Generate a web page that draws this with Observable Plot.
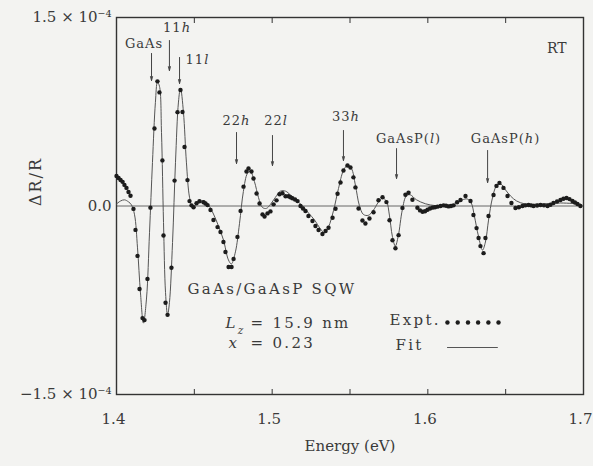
<!DOCTYPE html>
<html><head><meta charset="utf-8">
<script src="https://cdn.jsdelivr.net/npm/d3@7"></script>
<script src="https://cdn.jsdelivr.net/npm/@observablehq/plot@0.6"></script>
<style>
html,body{margin:0;padding:0;background:#f3f3f1;}
#chart svg{display:block;}
</style></head><body><div id="chart"></div>
<script>
// Experimental points: photon energy (eV) and ΔR/R in units of 1e-5
const exptEnergy = [
 1.4000,1.4013,1.4026,1.4039,1.4051,1.4064,1.4077,1.4090,1.4109,1.4122,
 1.4135,1.4148,1.4167,1.4180,1.4199,1.4218,1.4244,1.4263,1.4276,1.4295,
 1.4302,1.4315,1.4328,1.4353,1.4373,1.4392,1.4411,1.4424,1.4437,1.4456,
 1.4469,1.4495,1.4514,1.4533,1.4559,1.4585,1.4604,1.4623,1.4649,1.4668,
 1.4687,1.4700,1.4720,1.4739,1.4752,1.4777,1.4797,1.4816,1.4835,1.4848,
 1.4867,1.4880,1.4900,1.4919,1.4938,1.4951,1.4970,1.4989,1.5009,1.5028,
 1.5047,1.5066,1.5086,1.5105,1.5130,1.5163,1.5182,1.5214,1.5233,1.5259,
 1.5278,1.5298,1.5323,1.5343,1.5362,1.5388,1.5407,1.5420,1.5439,1.5458,
 1.5484,1.5503,1.5522,1.5535,1.5555,1.5580,1.5599,1.5625,1.5651,1.5683,
 1.5709,1.5734,1.5754,1.5773,1.5792,1.5812,1.5837,1.5856,1.5876,1.5901,
 1.5933,1.5966,1.5998,1.6030,1.6062,1.6101,1.6133,1.6165,1.6210,1.6242,
 1.6274,1.6293,1.6313,1.6326,1.6338,1.6358,1.6370,1.6390,1.6422,1.6441,
 1.6460,1.6486,1.6512,1.6537,1.6563,1.6608,1.6647,1.6679,1.6724,1.6769,
 1.6807,1.6852,1.6891,1.6929,1.6961,1.6980
];
const exptValue = [
 2.39,2.23,2.07,1.92,1.68,1.44,1.12,0.81,-0.23,-1.90,
 -3.97,-6.60,-8.92,-9.08,-5.80,-0.13,6.17,9.92,9.04,3.63,
 -2.35,-7.70,-8.66,-4.91,2.02,7.47,9.23,7.48,4.69,2.06,
 0.39,-0.10,0.22,0.38,0.30,0.07,-0.32,-1.12,-1.68,-2.07,
 -2.86,-3.66,-4.85,-4.85,-4.21,-2.46,-0.39,1.54,2.74,2.98,
 2.74,2.19,1.00,0.20,-0.67,-0.83,-0.59,-0.43,0.13,0.45,
 0.94,1.02,0.78,0.78,0.62,0.39,0.00,-0.40,-0.80,-1.19,
 -1.59,-1.91,-2.23,-1.99,-1.73,-0.93,-0.22,0.98,1.87,2.82,
 3.22,3.06,2.28,1.48,-0.20,-1.15,-1.39,-0.99,-0.50,0.46,
 0.70,0.31,-1.13,-2.72,-3.36,-2.32,-0.15,0.89,1.05,0.50,
 -0.14,-0.46,-0.30,-0.13,-0.05,0.05,-0.03,0.05,0.48,0.80,
 0.40,-0.72,-1.76,-2.55,-3.19,-3.75,-2.55,-0.80,0.88,1.60,
 1.84,1.44,0.80,0.24,-0.16,0.00,0.08,0.00,0.08,0.00,
 0.24,0.48,0.64,0.40,0.16,0.00
];
// Further points read where the dots crowd into a band
const exptBandEnergy = [1.4482,1.4572,1.5117,1.5147,1.5198,1.5950,1.5982,1.6014,1.6046,1.6082,1.6117,1.6149,1.6188,1.6585,1.6627,1.6663,1.6702,1.6746,1.6788,1.6830,1.6871,1.6910,1.6945];
const exptBandValue  = [0.05,0.20,0.70,0.52,-0.20,-0.35,-0.42,-0.20,-0.10,0.00,0.02,0.00,0.30,-0.10,0.05,0.05,0.04,0.05,0.10,0.36,0.58,0.55,0.28];
// Fitted line
const fitEnergy = [
 1.4000,1.4026,1.4051,1.4077,1.4096,1.4116,1.4135,1.4154,1.4173,1.4193,
 1.4212,1.4231,1.4250,1.4263,1.4276,1.4289,1.4302,1.4315,1.4328,1.4340,
 1.4360,1.4379,1.4398,1.4411,1.4430,1.4449,1.4469,1.4488,1.4514,1.4539,
 1.4565,1.4591,1.4623,1.4655,1.4687,1.4719,1.4738,1.4764,1.4790,1.4815,
 1.4841,1.4860,1.4886,1.4912,1.4937,1.4963,1.4989,1.5021,1.5053,1.5086,
 1.5118,1.5156,1.5195,1.5233,1.5272,1.5310,1.5336,1.5362,1.5394,1.5426,
 1.5458,1.5484,1.5509,1.5535,1.5560,1.5586,1.5618,1.5650,1.5682,1.5708,
 1.5734,1.5753,1.5772,1.5791,1.5810,1.5836,1.5862,1.5887,1.5926,1.5984,
 1.6048,1.6112,1.6177,1.6221,1.6253,1.6279,1.6299,1.6325,1.6351,1.6370,
 1.6390,1.6415,1.6441,1.6467,1.6499,1.6531,1.6570,1.6627,1.6724,1.6852,
 1.6980
];
const fitValue = [
 0.16,0.40,0.49,0.33,0.09,-0.70,-3.33,-6.92,-9.32,-7.32,
 -2.13,3.46,8.25,9.85,9.53,5.86,-1.32,-6.90,-8.66,-7.70,
 -2.90,3.48,8.27,9.39,7.48,3.49,0.70,-0.09,0.15,0.39,
 0.39,0.08,-0.64,-1.59,-2.70,-4.29,-4.61,-3.65,-1.41,1.15,
 2.59,2.75,1.95,0.68,-0.11,-0.19,0.13,0.69,1.18,1.18,
 0.87,0.47,0.00,-0.55,-1.11,-1.82,-2.14,-1.66,-0.37,1.39,
 2.83,3.23,2.99,1.64,0.05,-0.67,-0.74,-0.34,0.30,0.63,
 0.39,-0.72,-2.40,-3.19,-2.39,-0.31,0.81,0.89,0.50,0.18,
 0.03,0.04,0.16,0.48,0.56,0.24,-0.80,-2.39,-3.51,-2.87,
 -1.12,0.64,1.60,1.76,1.28,0.80,0.40,0.16,0.16,0.24,
 0.16
];
// Transition labels and arrows
const transLabels = ["GaAs","11*h*","11*l*","22*h*","22*l*","33*h*","GaAsP(*l*)","GaAsP(*h*)"];
const transLabelEnergy = [1.4177,1.4389,1.4520,1.4771,1.5025,1.5474,1.5876,1.6499];
const transLabelValue = [12.93,14.20,11.66,6.80,6.80,7.08,5.33,5.33];
const arrowEnergy = [1.4225,1.4340,1.4405,1.4771,1.5002,1.5458,1.5799,1.6384];
const arrowTop = [12.14,13.17,11.82,5.85,5.61,6.01,4.57,4.42];
const arrowBottom = [9.99,10.78,9.75,3.38,3.22,3.62,2.19,1.87];
// Sample description and legend
const infoTexts = ["GaAs/GaAsP SQW","*L*~z~","= 15.9 nm","*x*","= 0.23","Expt.","Fit"];
const infoEnergy = [1.4456,1.4700,1.4861,1.4719,1.4861,1.5754,1.5792];
const infoValue = [-6.58,-9.35,-9.35,-10.94,-10.94,-9.07,-11.10];
const legendDotEnergy = [1.6126,1.6192,1.6258,1.6323,1.6389,1.6454];
const legendDotValue = -9.27;
const legendLineEnergy = [1.6126,1.6447];
const legendLineValue = -11.26;
const cornerText = ["RT"];
const cornerEnergy = 1.6891, cornerValue = 12.57;
// Axes
const xTickValues = [1.4,1.5,1.6,1.7];
const xTickLabels = ["1.4","1.5","1.6","1.7"];
const xMinorTicks = [1.45,1.5,1.55,1.6,1.65];
const yTickValues = [-15,0,15];
const yTickLabels = ["\u22121.5 \u00d7 10\u207b\u2074","0.0","1.5 \u00d7 10\u207b\u2074"];
const xLabel = "Energy (eV)";
const yLabel = "\u0394R/R";

const expt = exptEnergy.map((e,i)=>({e, v: exptValue[i]}))
  .concat(exptBandEnergy.map((e,i)=>({e, v: exptBandValue[i]})));
const fit = fitEnergy.map((e,i)=>({e, v: fitValue[i]}));
const trans = transLabels.map((t,i)=>({t, e: transLabelEnergy[i], v: transLabelValue[i]}));
const arrows = arrowEnergy.map((e,i)=>({e, top: arrowTop[i], bottom: arrowBottom[i]}));
const info = infoTexts.map((t,i)=>({t, e: infoEnergy[i], v: infoValue[i]}));
const legDots = legendDotEnergy.map(e=>({e, v: legendDotValue}));
const legLine = legendLineEnergy.map(e=>({e, v: legendLineValue}));

const ink = "#3a3a3a";
const chart = Plot.plot({
  width: 593, height: 466,
  marginLeft: 116, marginRight: 10, marginTop: 17, marginBottom: 72,
  style: {background: "#f3f3f1", fontFamily: "DejaVu Serif", fontSize: "15px", color: ink},
  x: {domain: [1.4, 1.7]},
  y: {domain: [-15, 15]},
  marks: [
    Plot.ruleY([0], {stroke: "#666", strokeWidth: 1}),
    Plot.frame({stroke: "#333", strokeWidth: 1.4}),
    Plot.axisX({anchor: "bottom", ticks: xMinorTicks, tickSize: -5, tickFormat: () => "", label: null, stroke: "#333"}),
    Plot.axisX({anchor: "top", ticks: xMinorTicks, tickSize: -5, tickFormat: () => "", label: null, stroke: "#333"}),
    Plot.axisX({anchor: "bottom", ticks: xTickValues, tickSize: 0, tickPadding: 19, dx: -3, tickFormat: d => xTickLabels[xTickValues.indexOf(d)], label: null, fontSize: 15, fill: ink}),
    Plot.axisY({anchor: "left", ticks: yTickValues, tickSize: 0, tickPadding: 5, tickFormat: d => yTickLabels[yTickValues.indexOf(d)], label: null, fontSize: 15, fill: ink}),
    Plot.text([xLabel], {frameAnchor: "bottom", dy: 56, fontSize: 15, fill: ink}),
    Plot.text([yLabel], {frameAnchor: "left", dx: -81, rotate: -90, fontSize: 16, fill: ink, ariaDescription: "ylab"}),
    Plot.line(fit, {x: "e", y: "v", stroke: "#555", strokeWidth: 1, curve: "catmull-rom"}),
    Plot.dot(expt, {x: "e", y: "v", r: 2.2, fill: "#1c1c1c", stroke: null}),
    Plot.arrow(arrows, {x: "e", y1: "top", y2: "bottom", stroke: "#444", strokeWidth: 1, headLength: 6, headAngle: 30}),
    Plot.text(trans, {x: "e", y: "v", text: "t", fontSize: 13, fill: ink, ariaDescription: "trans"}),
    Plot.text(info, {x: "e", y: "v", text: "t", textAnchor: "start", fontSize: 15, fill: ink, ariaDescription: "info"}),
    Plot.dot(legDots, {x: "e", y: "v", r: 2.2, fill: "#1c1c1c", stroke: null}),
    Plot.line(legLine, {x: "e", y: "v", stroke: "#555", strokeWidth: 1}),
    Plot.text(cornerText, {x: () => cornerEnergy, y: () => cornerValue, textAnchor: "end", fontSize: 14, fill: ink})
  ]
});

// letter spacing
chart.querySelectorAll('[aria-description="info"]').forEach(g => g.style.letterSpacing = "2.3px");
chart.querySelectorAll('[aria-description="trans"]').forEach(g => g.style.letterSpacing = "1px");
chart.querySelectorAll('[aria-description="ylab"]').forEach(g => g.style.letterSpacing = "2px");
// italic / subscript markup
chart.querySelectorAll("text").forEach(t => {
  const s = t.textContent;
  if (!/[*~]/.test(s)) return;
  while (t.firstChild) t.removeChild(t.firstChild);
  s.split(/(\*[^*]+\*|~[^~]+~)/).filter(Boolean).forEach(p => {
    const ts = document.createElementNS("http://www.w3.org/2000/svg", "tspan");
    if (p[0] === "*") { ts.setAttribute("font-style", "italic"); ts.textContent = p.slice(1, -1); }
    else if (p[0] === "~") { ts.setAttribute("font-style", "italic"); ts.setAttribute("baseline-shift", "sub"); ts.setAttribute("font-size", "0.7em"); ts.textContent = p.slice(1, -1); }
    else ts.textContent = p;
    t.appendChild(ts);
  });
});
document.getElementById("chart").appendChild(chart);
</script></body></html>
